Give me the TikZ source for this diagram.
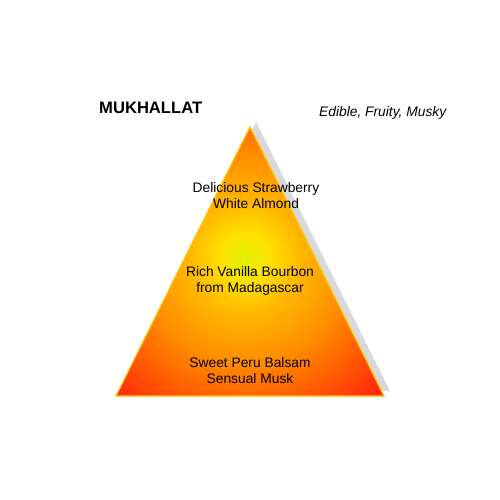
\documentclass[tikz,border=0pt]{standalone}
\usepackage{fontspec}
\setmainfont{Liberation Sans}
\definecolor{cy}{HTML}{E0F400}
\definecolor{c0}{HTML}{FFE000}
\definecolor{c1}{HTML}{FFB800}
\definecolor{c2}{HTML}{FF8C00}
\definecolor{c3}{HTML}{FF6400}
\definecolor{c4}{HTML}{FF2010}
\definecolor{edge}{HTML}{FFC400}
\pgfdeclareradialshading{pyr}{\pgfpointorigin}{color(0bp)=(cy); color(25bp)=(c0); color(55bp)=(c1); color(105bp)=(c2); color(138bp)=(c3); color(195bp)=(c4); color(200bp)=(c4)}
\tikzset{
  lbl/.style={font=\fontsize{13.8}{16}\selectfont, align=center, text=black, inner sep=0pt},
}
\begin{document}
\begin{tikzpicture}[x=1pt,y=-1pt]
\useasboundingbox (0,0) rectangle (500,500);
\coordinate (A) at (250,127);
\coordinate (B) at (116,396);
\coordinate (C) at (384,396);
\coordinate (O) at (245,258);
% shadow
\fill[gray!30] ([shift={(6,-5)}]A) -- ([shift={(6,-5)}]B) -- ([shift={(6,-5)}]C) -- cycle;
% pyramid
\begin{scope}
\clip (A) -- (B) -- (C) -- cycle;
\node[inner sep=0pt, outer sep=0pt] (grad) at (O) {\pgfuseshading{pyr}};
\end{scope}
\draw[edge, line width=1.2pt, line join=miter] (A) -- (B) -- (C) -- cycle;
\node[lbl, anchor=west, font=\fontsize{16.6}{20}\selectfont\bfseries] (title) at (99,108) {MUKHALLAT};
\node[lbl, anchor=west, font=\fontsize{13.8}{16}\selectfont\itshape] (sub) at (319,113) {Edible, Fruity, Musky};
\node[lbl] (t1) at (256,196) {Delicious Strawberry\\White Almond};
\node[lbl] (t2) at (250,281) {Rich Vanilla Bourbon\\from Madagascar};
\node[lbl] (t3) at (250,371) {Sweet Peru Balsam\\Sensual Musk};
\end{tikzpicture}
\end{document}
